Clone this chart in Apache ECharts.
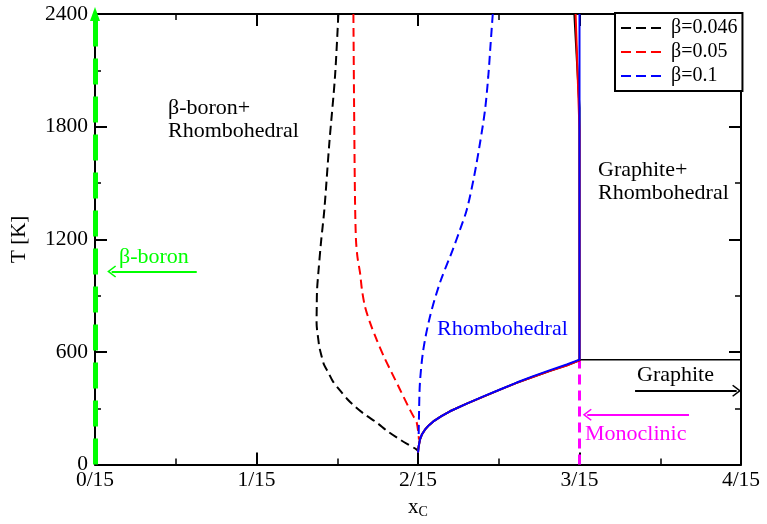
<!DOCTYPE html>
<html><head><meta charset="utf-8">
<script src="https://cdn.jsdelivr.net/npm/echarts@6/dist/echarts.min.js"></script>
<style>html,body{margin:0;padding:0;background:#fff}#c{width:767px;height:524px}</style>
</head><body><div id="c"></div>
<script>
// x values are in units of 1/15 (x_C * 15), T in K
const xTickLabels = ['0/15', '1/15', '2/15', '3/15', '4/15'];
const legendNames = ['β=0.046', 'β=0.05', 'β=0.1'];

const dashed046 = [[1.507,2400],[1.486,2066],[1.451,1713],[1.420,1357],[1.399,1181],[1.383,1022],[1.375,931],[1.373,841],[1.372,756],[1.383,665],[1.390,623],[1.404,575],[1.418,532],[1.445,490],[1.474,442],[1.513,399],[1.560,351],[1.610,309],[1.672,266],[1.744,224],[1.814,176],[1.889,133],[1.992,80],[2.002,71]];
const dashed05 = [[1.600,2400],[1.604,1942],[1.610,1410],[1.616,1197],[1.625,1107],[1.641,1022],[1.653,931],[1.672,841],[1.703,756],[1.744,665],[1.789,575],[1.837,490],[1.889,399],[1.940,309],[1.966,266],[1.992,224],[2.006,133]];
const dashed01 = [[2.463,2400],[2.450,2246],[2.435,2066],[2.415,1889],[2.384,1713],[2.347,1533],[2.302,1357],[2.260,1251],[2.215,1144],[2.136,969],[2.074,788],[2.033,612],[2.012,436],[2.006,255],[2.004,149]];

const solid046 = [[2,0],[2,64],[2.003,90],[2.006,106],[2.012,133],[2.025,162],[2.043,186],[2.068,210],[2.095,230],[2.145,258],[2.198,284],[2.302,325],[2.405,362],[2.508,399],[2.611,435],[2.714,468],[2.818,499],[2.921,529],[3.0,556],[3.0,1900],[2.968,2400]];
const solid05 = [[2,64],[2.003,90],[2.006,106],[2.012,133],[2.025,162],[2.043,186],[2.068,210],[2.095,230],[2.145,258],[2.198,284],[2.302,325],[2.405,362],[2.508,399],[2.611,435],[2.714,468],[2.818,499],[2.921,528],[3.0,556],[3.0,1780],[2.976,2400]];
const solid01 = [[2,64],[2.003,90],[2.006,106],[2.012,133],[2.025,162],[2.043,186],[2.068,210],[2.095,230],[2.145,258],[2.198,284],[2.302,325],[2.405,363],[2.508,400],[2.611,437],[2.714,471],[2.818,503],[2.921,533],[3.0,559],[3.0,2400]];

const graphiteLine = [[3,559],[4,559]];
const monoclinicLine = [[3,0],[3,559]];
const boronLine = [[0,0],[0,2400]];

const boronArrow = [[0.63,1029],[0.103,1029]];
const graphiteArrow = [[3.344,394],[3.973,394]];
const monoclinicArrow = [[3.678,266],[3.048,266]];

const FONT = '"Liberation Serif", "Times New Roman", serif';
const chevron = 'path://M0,0L6,8L5,9L0,2.5L-5,9L-6,8Z';
const dashIcon = 'path://M0,0h10v2h-10z M15,0h10v2h-10z M30,0h10v2h-10z';

const chart = echarts.init(document.getElementById('c'), null, {renderer: 'canvas'});

function axisCommon(extra) {
  return Object.assign({
    type: 'value',
    axisLine: {show: true, onZero: false, lineStyle: {color: '#000', width: 2}},
    axisTick: {show: true, inside: true, length: 12, lineStyle: {color: '#000', width: 2}},
    minorTick: {show: true, splitNumber: 2, length: 6, lineStyle: {color: '#000', width: 1.5}},
    splitLine: {show: false},
    minorSplitLine: {show: false}
  }, extra);
}

function arrowLine(coords, color) {
  return {
    silent: true,
    animation: false,
    symbol: ['none', chevron],
    symbolSize: [12, 9],
    label: {show: false},
    lineStyle: {color: color, width: 2, type: 'solid'},
    data: [[{coord: coords[0]}, {coord: coords[1]}]]
  };
}

const series = [
  {
    name: 'boron', type: 'line', data: [], symbol: 'none',
    markLine: {
      silent: true, animation: false,
      symbol: ['none', 'triangle'], symbolSize: [10, 14],
      label: {show: false},
      lineStyle: {color: '#00ff00', width: 5, type: [26, 12]},
      data: [[{coord: boronLine[0]}, {coord: boronLine[1]}]]
    }
  },
  {name: 'boronArrow', type: 'line', data: [], symbol: 'none', markLine: arrowLine(boronArrow, '#00ff00')},
  {
    name: 'mono', type: 'line', data: monoclinicLine, symbol: 'none', clip: false,
    lineStyle: {color: '#ff00ff', width: 3, type: [10, 6]},
    markLine: arrowLine(monoclinicArrow, '#ff00ff')
  },
  {
    name: 'graphite', type: 'line', data: graphiteLine, symbol: 'none',
    lineStyle: {color: '#000', width: 1.5},
    markLine: arrowLine(graphiteArrow, '#000')
  },
  {name: legendNames[0], type: 'line', data: dashed046, symbol: 'none', smooth: 0.3, color: '#000', lineStyle: {color: '#000', width: 2, type: [9, 5]}},
  {name: legendNames[1], type: 'line', data: dashed05, symbol: 'none', smooth: 0.3, color: '#ff0000', lineStyle: {color: '#ff0000', width: 2, type: [9, 5]}},
  {name: legendNames[2], type: 'line', data: dashed01, symbol: 'none', smooth: 0.3, color: '#0000ff', lineStyle: {color: '#0000ff', width: 2, type: [9, 5]}},
  {name: 's046', type: 'line', data: solid046, symbol: 'none', lineStyle: {color: '#000', width: 2}},
  {name: 's05', type: 'line', data: solid05, symbol: 'none', lineStyle: {color: '#ff0000', width: 2}},
  {name: 's01', type: 'line', data: solid01, symbol: 'none', lineStyle: {color: '#0000ff', width: 2}}
];

function txt(text, x, y, color) {
  return {
    type: 'text', x: x, y: y, z: 100, silent: true,
    style: {text: text, fill: color, font: '22px ' + FONT, verticalAlign: 'middle', align: 'left'}
  };
}

chart.setOption({
  animation: false,
  backgroundColor: '#fff',
  textStyle: {fontFamily: FONT},
  grid: {left: 95, right: 26, top: 14, bottom: 59, containLabel: false},
  xAxis: [
    axisCommon({
      min: 0, max: 4, interval: 1, position: 'bottom',
      axisLabel: {margin: 5, color: '#000', fontSize: 21.5, fontFamily: FONT, formatter: v => xTickLabels[Math.round(v)]},
      name: 'x{sub|C}', nameLocation: 'middle', nameGap: 29,
      nameTextStyle: {color: '#000', fontSize: 21, fontFamily: FONT,
        rich: {sub: {fontSize: 14, fontFamily: FONT, color: '#000', padding: [10, 0, 0, 0]}}}
    }),
    axisCommon({min: 0, max: 4, interval: 1, position: 'top', axisLabel: {show: false}})
  ],
  yAxis: [
    axisCommon({
      min: 0, max: 2400, interval: 600, position: 'left',
      axisLabel: {margin: 7, color: '#000', fontSize: 21.5, fontFamily: FONT, formatter: v => String(v)},
      name: 'T [K]', nameLocation: 'middle', nameGap: 65,
      nameTextStyle: {color: '#000', fontSize: 21, fontFamily: FONT}
    }),
    axisCommon({min: 0, max: 2400, interval: 600, position: 'right', axisLabel: {show: false}})
  ],
  legend: {
    data: legendNames, orient: 'vertical', left: 615, top: 13,
    icon: dashIcon,
    itemWidth: 40, itemHeight: 2, itemGap: 4,
    padding: [5, 5, 5, 6], borderColor: '#000', borderWidth: 2, borderRadius: 0,
    backgroundColor: '#fff', selectedMode: false,
    textStyle: {fontFamily: FONT, fontSize: 20, lineHeight: 20, color: '#000', padding: [0, 0, 0, 5]}
  },
  graphic: [
    txt('β-boron+', 168, 108, '#000'),
    txt('Rhombohedral', 168, 131, '#000'),
    txt('β-boron', 119, 257, '#00ff00'),
    txt('Rhombohedral', 437, 329, '#0000ff'),
    txt('Graphite+', 598, 170, '#000'),
    txt('Rhombohedral', 598, 193, '#000'),
    txt('Graphite', 637, 375, '#000'),
    txt('Monoclinic', 585, 434, '#ff00ff')
  ],
  series: series
});
</script></body></html>
